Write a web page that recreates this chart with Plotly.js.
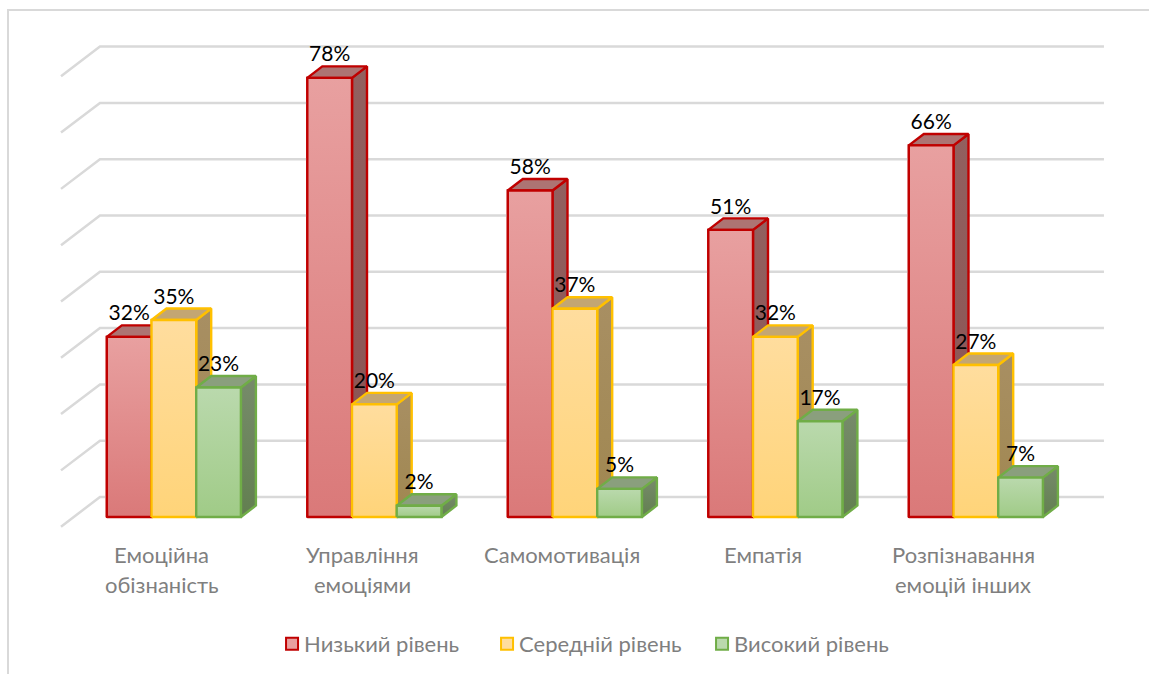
<!DOCTYPE html>
<html>
<head>
<meta charset="utf-8">
<script src="https://cdn.plot.ly/plotly-3.0.1.min.js"></script>
<style>
  html, body { margin: 0; padding: 0; background: #fff; overflow: hidden; }
  #frame { position: absolute; left: 7px; top: 9px; width: 1200px; height: 800px;
           border-left: 2px solid #d9d9d9; border-top: 2px solid #d9d9d9; }
  #chart { position: absolute; left: 0; top: 0; width: 1149px; height: 674px; }
  /* legend swatch hugs its text in the original */
  #chart .legendsymbols { transform: translateX(8px); }
</style>
</head>
<body>
<div id="frame"></div>
<div id="chart"></div>
<script>
// Values
const labelLine1 = ['Емоційна', 'Управління', 'Самомотивація', 'Емпатія', 'Розпізнавання'];
const labelLine2 = ['обізнаність', 'емоціями', '', '', 'емоцій інших'];
const seriesNames = ['Низький рівень', 'Середній рівень', 'Високий рівень'];
const lowLevel = [32, 78, 58, 51, 66];
const midLevel = [35, 20, 37, 32, 27];
const highLevel = [23, 2, 5, 17, 7];
const gridValues = [0, 10, 20, 30, 40, 50, 60, 70, 80];

const seriesValues = [lowLevel, midLevel, highLevel];

// Colours per series: edge, front top, front bottom, side top, side bottom, top face
const palette = [
  { edge: '#c00000', frontHi: '#e8a0a0', frontLo: '#da7979', sideHi: '#92605f', sideLo: '#8a5352', top: '#ad7473' },
  { edge: '#ffc000', frontHi: '#ffdd9e', frontLo: '#ffd479', sideHi: '#a88f63', sideLo: '#a08750', top: '#c3a673' },
  { edge: '#70ad47', frontHi: '#bad9ad', frontLo: '#a0cb87', sideHi: '#778b6b', sideLo: '#627f50', top: '#8a9f7d' }
];

// Fake 3D geometry, in axis units (x: one category = 1, y: percent)
const barWidth = 0.2226;
const barShift = 0.06;
const barPitch = 0.9985;
const labelPitch = 0.9975;
const depthX = 0.0747;
const depthY = 2.04;
const floorLeft = -0.502, wallLeft = -0.308, wallRight = 4.692;
const wallLift = 3.55, floorDrop = -1.72;

const FONT = 'Lato, Carlito, sans-serif';

function gridTrace() {
  const x = [], y = [];
  gridValues.forEach(g => {
    x.push(floorLeft, wallLeft, wallRight, null);
    y.push(g + floorDrop, g + wallLift, g + wallLift, null);
  });
  return {
    x, y, type: 'scatter', mode: 'lines', showlegend: false, hoverinfo: 'skip',
    line: { color: '#d9d9d9', width: 2.5 }
  };
}

function barLeft(cat, s) {
  return cat * barPitch + barShift + (s - 1.5) * barWidth;
}

function face(xs, ys, color, edge, gradient) {
  const trace = {
    x: xs.concat(xs[0]), y: ys.concat(ys[0]),
    type: 'scatter', mode: 'lines', fill: 'toself', showlegend: false, hoverinfo: 'skip',
    fillcolor: color,
    line: { color: edge, width: 2.4 }
  };
  if (gradient) {
    trace.fillgradient = { type: 'vertical', colorscale: [[0, gradient[0]], [1, gradient[1]]] };
  }
  return trace;
}

const traces = [];

// plain bars go first: they carry the legend, the faces get painted over them
seriesNames.forEach((name, s) => {
  traces.push({
    type: 'bar', name,
    x: seriesValues[s].map((v, c) => barLeft(c, s) + barWidth / 2),
    y: seriesValues[s],
    width: barWidth,
    marker: { color: palette[s].frontHi, line: { color: palette[s].edge, width: 2 } },
    hoverinfo: 'skip'
  });
});

traces.push(gridTrace());

labelLine1.forEach((_, c) => {
  seriesValues.forEach((vals, s) => {
    const v = vals[c], p = palette[s];
    const x0 = barLeft(c, s), x1 = x0 + barWidth;
    traces.push(face(
      [x1, x1 + depthX, x1 + depthX, x1], [0, depthY, v + depthY, v],
      p.sideHi, p.edge, [p.sideLo, p.sideHi]));
    traces.push(face(
      [x0, x1, x1 + depthX, x0 + depthX], [v, v, v + depthY, v + depthY],
      p.top, p.edge));
    traces.push(face(
      [x0, x1, x1, x0], [0, 0, v, v],
      p.frontHi, p.edge, [p.frontLo, p.frontHi]));
  });
});

// data labels sit on top of everything
seriesValues.forEach((vals, s) => {
  traces.push({
    type: 'scatter', mode: 'text', showlegend: false, hoverinfo: 'skip',
    x: vals.map((v, c) => barLeft(c, s) + barWidth / 2),
    y: vals.map(v => v + depthY + 1.8),
    text: vals.map(v => v + '%'),
    textposition: 'middle center',
    textfont: { family: FONT, size: 21, color: '#000' }
  });
});

// category labels are annotations because the line gap is wider than <br> gives
const annotations = [];
[[labelLine1, -0.0275], [labelLine2, -0.0863]].forEach(([line, py]) => {
  line.forEach((text, c) => {
    if (!text) return;
    annotations.push({
      x: c * labelPitch, xref: 'x', y: py, yref: 'paper', text, showarrow: false,
      xanchor: 'center', yanchor: 'middle',
      font: { family: FONT, size: 22, color: '#7f7f7f' }
    });
  });
});

const layout = {
  width: 1149, height: 674,
  margin: { l: 50, r: 30, t: 30, b: 134, pad: 0 },
  paper_bgcolor: 'rgba(0,0,0,0)',
  plot_bgcolor: 'rgba(0,0,0,0)',
  barmode: 'overlay',
  xaxis: { range: [-0.5568, 4.7669], showgrid: false, zeroline: false, showline: false, showticklabels: false, ticks: '' },
  yaxis: { range: [-4.085, 86.5], showgrid: false, zeroline: false, showline: false, showticklabels: false, ticks: '' },
  legend: {
    orientation: 'h', xref: 'container', yref: 'container',
    x: 0.2298, xanchor: 'left', y: 0.0445, yanchor: 'middle',
    entrywidth: 170, entrywidthmode: 'pixels',
    font: { family: FONT, size: 22, color: '#7f7f7f' }, bgcolor: 'rgba(0,0,0,0)'
  },
  annotations
};

Plotly.newPlot('chart', traces, layout, { displayModeBar: false, responsive: false });
</script>
</body>
</html>
